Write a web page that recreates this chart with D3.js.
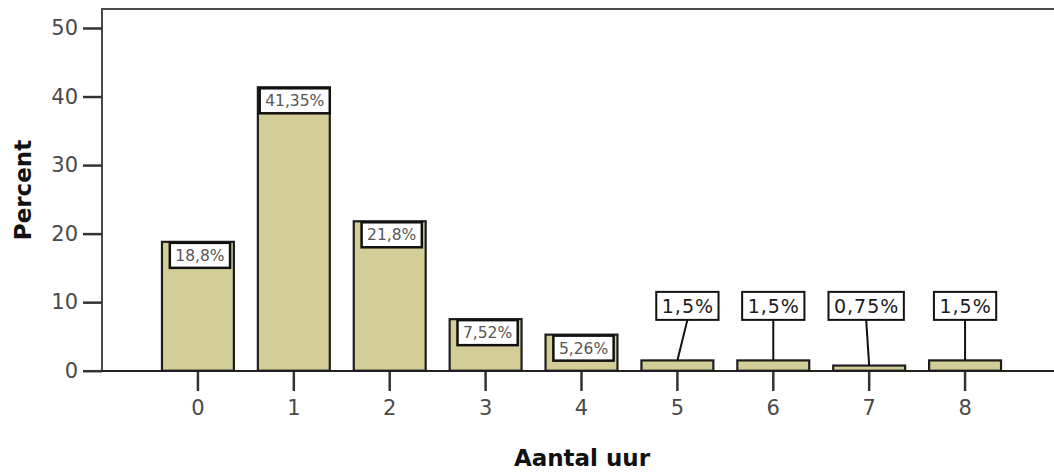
<!DOCTYPE html>
<html>
<head>
<meta charset="utf-8">
<script src="https://cdn.jsdelivr.net/npm/d3@7"></script>
<style>
  html, body { margin: 0; padding: 0; background: #fff; }
  svg { display: block; font-family: "DejaVu Sans", Verdana, sans-serif; }
</style>
</head>
<body>
<svg id="chart" width="1054" height="473"></svg>
<script>
// Hours per week and the share of respondents for each
const categories = ["0", "1", "2", "3", "4", "5", "6", "7", "8"];
const percentages = [18.8, 41.35, 21.8, 7.52, 5.26, 1.5, 1.5, 0.75, 1.5];
const valueLabels = ["18,8%", "41,35%", "21,8%", "7,52%", "5,26%", "1,5%", "1,5%", "0,75%", "1,5%"];
const yTicks = [0, 10, 20, 30, 40, 50];

const svg = d3.select("#chart");

const plot = { left: 102, top: 9, right: 1056, bottom: 371 };

const x = d3.scaleBand()
  .domain(categories)
  .range([138, 1025])
  .padding(0.25);

const y = d3.scaleLinear()
  .domain([0, 50])
  .range([370.7, 28]);

// plot frame (right side runs off the canvas)
svg.append("rect")
  .attr("x", plot.left)
  .attr("y", plot.top)
  .attr("width", plot.right - plot.left)
  .attr("height", plot.bottom - plot.top)
  .attr("fill", "none")
  .attr("stroke", "#4a4a4a")
  .attr("stroke-width", 2);

// y axis
const yAxis = svg.append("g")
  .attr("transform", `translate(${plot.left},0)`)
  .call(d3.axisLeft(y).tickValues(yTicks).tickSize(19).tickPadding(5).tickFormat(d3.format("d")));
yAxis.select(".domain").remove();
yAxis.selectAll(".tick line").attr("stroke", "#333").attr("stroke-width", 2.5);
yAxis.selectAll(".tick text")
  .attr("fill", "#4a4a4a")
  .style("font-size", "21px")
  .style("font-family", "'DejaVu Sans', Verdana, sans-serif");

// x axis
const xAxis = svg.append("g")
  .attr("transform", `translate(0,${plot.bottom})`)
  .call(d3.axisBottom(x).tickSize(20).tickPadding(9));
xAxis.select(".domain").remove();
xAxis.selectAll(".tick line").attr("stroke", "#333").attr("stroke-width", 2.5);
xAxis.selectAll(".tick text")
  .attr("fill", "#4a4a4a")
  .style("font-size", "21px")
  .style("font-family", "'DejaVu Sans', Verdana, sans-serif");

// baseline across the plot
svg.append("line")
  .attr("x1", plot.left).attr("x2", plot.right)
  .attr("y1", plot.bottom).attr("y2", plot.bottom)
  .attr("stroke", "#222").attr("stroke-width", 2);

// bars
const rows = categories.map((c, i) => ({ cat: c, value: percentages[i], label: valueLabels[i] }));

svg.append("g").selectAll("rect")
  .data(rows)
  .join("rect")
  .attr("x", d => x(d.cat))
  .attr("y", d => y(d.value))
  .attr("width", x.bandwidth())
  .attr("height", d => y(0) - y(d.value))
  .attr("fill", "#d3cd98")
  .attr("stroke", "#1e1e1e")
  .attr("stroke-width", 2.2);

// value labels: boxed inside tall bars, above short bars with a leader line
const labels = svg.append("g");
const nudge = { "5": 10, "7": -3 };

rows.forEach(d => {
  const cx = x(d.cat) + x.bandwidth() / 2;
  const barTop = y(d.value);
  const inside = (y(0) - barTop) > 30;
  const g = labels.append("g");
  const t = g.append("text")
    .text(d.label)
    .attr("text-anchor", "middle")
    .style("font-size", inside ? "15.5px" : "19px")
    .style("letter-spacing", inside ? "0px" : "1px")
    .attr("fill", inside ? "#555" : "#1a1a1a");
  const tw = t.node().getComputedTextLength();

  if (inside) {
    const w = Math.min(tw + 11, x.bandwidth());
    const bx = Math.min(cx + 2 - w / 2, x(d.cat) + x.bandwidth() - w);
    const by = barTop + 1;
    g.insert("rect", "text")
      .attr("x", bx).attr("y", by)
      .attr("width", w).attr("height", 25)
      .attr("fill", "#fff")
      .attr("stroke", "#111").attr("stroke-width", 2.5);
    t.attr("x", bx + w / 2).attr("y", by + 18);
  } else {
    const w = tw + 10;
    const bcx = cx + (nudge[d.cat] || 0);
    const by = y(11.5);
    const h = 28;
    g.insert("line", "text")
      .attr("x1", bcx).attr("y1", by + h)
      .attr("x2", cx).attr("y2", barTop)
      .attr("stroke", "#111").attr("stroke-width", 2);
    g.insert("rect", "text")
      .attr("x", bcx - w / 2).attr("y", by)
      .attr("width", w).attr("height", h)
      .attr("fill", "#fff")
      .attr("stroke", "#111").attr("stroke-width", 2);
    t.attr("x", bcx + 0.5).attr("y", by + 21);
  }
});

// axis titles
svg.append("text")
  .attr("x", 582)
  .attr("y", 466)
  .attr("text-anchor", "middle")
  .style("font-size", "23px")
  .style("font-weight", "bold")
  .attr("fill", "#111")
  .text("Aantal uur");

svg.append("text")
  .attr("transform", "translate(31,190) rotate(-90)")
  .attr("text-anchor", "middle")
  .style("font-size", "23px")
  .style("font-weight", "bold")
  .attr("fill", "#111")
  .text("Percent");
</script>
</body>
</html>
